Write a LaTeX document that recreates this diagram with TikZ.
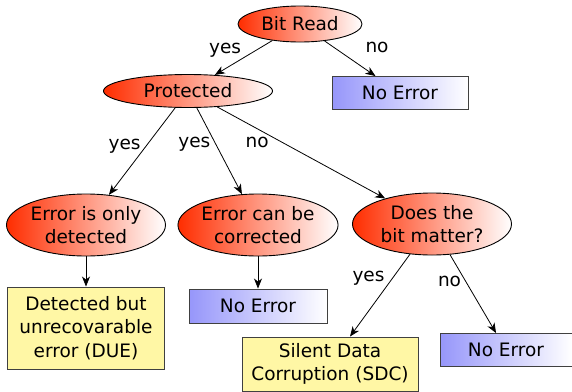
\documentclass[tikz,border=0pt]{standalone}
\usepackage{fontspec}
\setmainfont{DejaVu Sans}
\usetikzlibrary{positioning,shapes.geometric,arrows.meta}

\definecolor{askred}{RGB}{255,45,0}
\definecolor{okblue}{RGB}{150,150,250}
\definecolor{badyellow}{RGB}{255,247,165}

\begin{document}
\begin{tikzpicture}[
                    ->,
                    >={Stealth[length=10pt,width=8pt,inset=3pt]},
                    line width=0.8pt,
                    on grid,
                    font=\fontsize{18.5}{23.5}\selectfont,
                    question/.style={ellipse, draw=black, line width=0.9pt, left color=askred, right color=white,
                                     inner sep=0pt, align=center, minimum width=159pt, minimum height=62pt},
                    noerror/.style={rectangle, draw=black!75, line width=0.9pt, left color=okblue, right color=white,
                                    inner sep=0pt, minimum width=136pt, minimum height=33pt},
                    outcome/.style={rectangle, draw=black!75, line width=0.9pt, fill=badyellow,
                                    inner sep=0pt, align=center},
                    answer/.style={inner sep=0pt}
                ]
                \useasboundingbox (0pt,0pt) rectangle (572pt,-391pt);

                \node (BR)   [question, minimum width=124pt, minimum height=36pt] at (300pt,-24pt) {Bit Read};
                \node (P)    [question, below left=67pt and 112pt of BR, minimum width=169pt, minimum height=33pt] {Protected};
                \node (NE1)  [noerror,  below right=69pt and 100pt of BR]  {No Error};
                \node (D)    [question, below left=134pt and 102pt of P]   {Error is only\\detected};
                \node (C)    [question, below right=134pt and 70pt of P]   {Error can be\\corrected};
                \node (M)    [question, below right=133pt and 244pt of P]  {Does the\\bit matter?};
                \node (DUE)  [outcome,  below=103pt of D, minimum width=157pt, minimum height=82pt]
                                                                          {Detected but\\unrecovarable\\error (DUE)};
                \node (NE2)  [noerror,  below=81pt of C, minimum width=138pt, minimum height=34pt] {No Error};
                \node (SDC)  [outcome,  below left=140pt and 102pt of M, minimum width=176pt, minimum height=54pt]
                                                                          {Silent Data\\Corruption (SDC)};
                \node (NE3)  [noerror,  below right=126pt and 74pt of M, minimum width=132pt] {No Error};

                \path
                (BR) edge node[answer, xshift=-18.5pt, yshift=7pt]    {yes} (P)
                (BR) edge node[answer, xshift=27pt,    yshift=11pt]   {no}  (NE1)
                (P)  edge node[answer, xshift=-17.5pt, yshift=5.5pt]  {yes} (D)
                (P)  edge node[answer, xshift=-25pt,   yshift=6.5pt]  {yes} (C)
                (P)  edge node[answer, xshift=-44pt,   yshift=10pt]   {no}  (M)
                (D)  edge (DUE)
                (C)  edge (NE2)
                (M)  edge node[answer, xshift=-11.5pt, yshift=17pt]   {yes} (SDC)
                (M)  edge node[answer, xshift=-23.5pt, yshift=12pt]   {no}  (NE3)
                ;
            \end{tikzpicture}
\end{document}
